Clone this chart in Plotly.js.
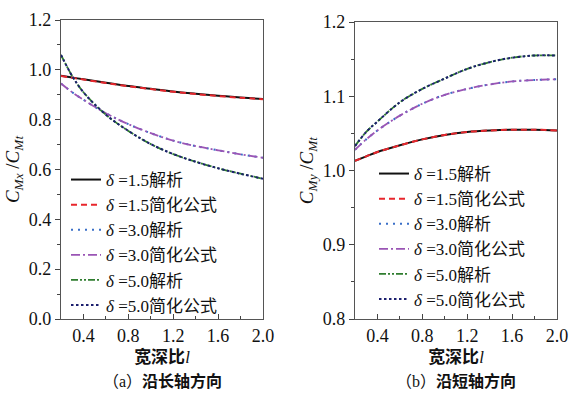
<!DOCTYPE html>
<html>
<head>
<meta charset="utf-8">
<script src="https://cdn.plot.ly/plotly-3.0.1.min.js"></script>
<style>html,body{margin:0;padding:0;background:#fff}#chart{width:576px;height:394px}</style>
</head>
<body>
<div id="chart"></div>
<script>
// Width-to-depth ratio l
const lValues = [0.2, 0.3, 0.4, 0.6, 0.8, 1.0, 1.2, 1.4, 1.6, 1.8, 2.0];

// (a) along long axis: C_Mx / C_Mt
const a_d15_analytic   = [0.976, 0.969, 0.962, 0.948, 0.935, 0.924, 0.913, 0.904, 0.896, 0.889, 0.883];
const a_d15_simplified = [0.975, 0.968, 0.961, 0.947, 0.934, 0.923, 0.912, 0.903, 0.895, 0.888, 0.882];
const a_d30_analytic   = [0.945, 0.910, 0.880, 0.826, 0.782, 0.746, 0.716, 0.694, 0.677, 0.661, 0.647];
const a_d30_simplified = [0.945, 0.910, 0.880, 0.826, 0.782, 0.746, 0.716, 0.694, 0.677, 0.661, 0.647];
const a_d50_analytic   = [1.060, 0.975, 0.910, 0.820, 0.755, 0.702, 0.662, 0.631, 0.605, 0.583, 0.563];
const a_d50_simplified = [1.060, 0.975, 0.910, 0.820, 0.755, 0.702, 0.662, 0.631, 0.605, 0.583, 0.563];

// (b) along short axis: C_My / C_Mt
const b_d15_analytic   = [1.013, 1.019, 1.025, 1.034, 1.042, 1.048, 1.052, 1.054, 1.055, 1.055, 1.054];
const b_d15_simplified = [1.013, 1.019, 1.025, 1.034, 1.042, 1.048, 1.052, 1.054, 1.055, 1.055, 1.054];
const b_d30_analytic   = [1.028, 1.042, 1.054, 1.074, 1.090, 1.102, 1.110, 1.116, 1.120, 1.122, 1.123];
const b_d30_simplified = [1.028, 1.042, 1.054, 1.074, 1.090, 1.102, 1.110, 1.116, 1.120, 1.122, 1.123];
const b_d50_analytic   = [1.033, 1.052, 1.066, 1.092, 1.110, 1.124, 1.137, 1.146, 1.152, 1.155, 1.155];
const b_d50_simplified = [1.033, 1.052, 1.066, 1.092, 1.110, 1.124, 1.137, 1.146, 1.152, 1.155, 1.155];

const seriesNames = [
  '<i>δ</i> =1.5解析', '<i>δ</i> =1.5简化公式',
  '<i>δ</i> =3.0解析', '<i>δ</i> =3.0简化公式',
  '<i>δ</i> =5.0解析', '<i>δ</i> =5.0简化公式'
];
const xTickVals = [0.4, 0.8, 1.2, 1.6, 2.0];
const xTickText = ['0.4', '0.8', '1.2', '1.6', '2.0'];

const styles = [
  {color: '#111111', dash: 'solid', width: 2},
  {color: '#e8262c', dash: '6px,4px', width: 2},
  {color: '#3a6fc8', dash: '2px,5px', width: 2},
  {color: '#9a55b5', dash: '9px,3px,2px,3px', width: 1.8},
  {color: '#2f7d2f', dash: '7px,2px,2px,2px,2px,2px', width: 1.8},
  {color: '#1c1f6e', dash: '2.5px,2.5px', width: 2}
];

const aSeries = [a_d15_analytic, a_d15_simplified, a_d30_analytic, a_d30_simplified, a_d50_analytic, a_d50_simplified];
const bSeries = [b_d15_analytic, b_d15_simplified, b_d30_analytic, b_d30_simplified, b_d50_analytic, b_d50_simplified];

const traces = [];
aSeries.forEach((ys, i) => traces.push({
  x: lValues, y: ys, type: 'scatter', mode: 'lines', name: seriesNames[i],
  line: {color: styles[i].color, dash: styles[i].dash, width: styles[i].width, shape: 'spline'},
  xaxis: 'x', yaxis: 'y', legend: 'legend'
}));
bSeries.forEach((ys, i) => traces.push({
  x: lValues, y: ys, type: 'scatter', mode: 'lines', name: seriesNames[i],
  line: {color: styles[i].color, dash: styles[i].dash, width: styles[i].width, shape: 'spline'},
  xaxis: 'x2', yaxis: 'y2', legend: 'legend2'
}));

const NUMFONT = 'Liberation Serif';
const FONT = 'Liberation Serif, Noto Sans CJK SC';
const axisCommon = {
  showgrid: false, zeroline: false, showline: true, mirror: true,
  linecolor: '#555', linewidth: 1.2, tickcolor: '#444',
  tickfont: {family: NUMFONT, size: 18, color: '#111'}
};
const xCommon = Object.assign({}, axisCommon, {
  range: [0.2, 2.0], tickmode: 'array', tickvals: xTickVals, ticktext: xTickText,
  ticks: 'inside', ticklen: 5,
  minor: {ticks: 'inside', ticklen: 3, dtick: 0.2, tick0: 0.2, tickcolor: '#444'},
  title: {text: '<b>宽深比</b><i>l</i>', font: {family: FONT, size: 17, color: '#111'}, standoff: 6}
});

const legendCommon = {
  bgcolor: 'rgba(0,0,0,0)', borderwidth: 0,
  font: {family: FONT, size: 17, color: '#111'},
  xanchor: 'left', yanchor: 'top', tracegroupgap: 0, itemwidth: 30
};

// paper y is measured on the plot area: pixel 319 -> 0, pixel 20 -> 1
const py = p => (319 - p) / 299;

const layout = {
  width: 576, height: 394,
  margin: {l: 0, r: 0, t: 20, b: 75},
  paper_bgcolor: '#fff', plot_bgcolor: '#fff',
  showlegend: true,
  xaxis: Object.assign({}, xCommon, {domain: [61/576, 263/576], anchor: 'y'}),
  yaxis: Object.assign({}, axisCommon, {
    domain: [0, 1], anchor: 'x', range: [0, 1.2], dtick: 0.2, tick0: 0,
    tickformat: '.1f', ticks: 'outside', ticklen: 5,
    minor: {ticks: 'outside', ticklen: 3, dtick: 0.1, tick0: 0, tickcolor: '#444'},
    title: {text: '<i>C</i><sub><i>Mx</i></sub> /<i>C</i><sub><i>Mt</i></sub>', font: {family: NUMFONT, size: 19, color: '#111'}, standoff: 4}
  }),
  xaxis2: Object.assign({}, xCommon, {domain: [355/576, 557/576], anchor: 'y2'}),
  yaxis2: Object.assign({}, axisCommon, {
    domain: [0, 0.993], anchor: 'x2', range: [0.8, 1.2], dtick: 0.1, tick0: 0.8,
    tickformat: '.1f', ticks: 'outside', ticklen: 5,
    minor: {ticks: 'outside', ticklen: 3, dtick: 0.05, tick0: 0.8, tickcolor: '#444'},
    title: {text: '<i>C</i><sub><i>My</i></sub> /<i>C</i><sub><i>Mt</i></sub>', font: {family: NUMFONT, size: 19, color: '#111'}, standoff: 4}
  }),
  legend: Object.assign({}, legendCommon, {x: 66/576, y: py(162)}),
  legend2: Object.assign({}, legendCommon, {x: 374/576, y: py(156)}),
  annotations: [
    {text: '（a）<b>沿长轴方向</b>', xref: 'paper', yref: 'paper', x: 162/576, y: py(381),
     showarrow: false, font: {family: FONT, size: 16, color: '#111'}, xanchor: 'center', yanchor: 'middle'},
    {text: '（b）<b>沿短轴方向</b>', xref: 'paper', yref: 'paper', x: 456/576, y: py(381),
     showarrow: false, font: {family: FONT, size: 16, color: '#111'}, xanchor: 'center', yanchor: 'middle'}
  ]
};

Plotly.newPlot('chart', traces, layout, {staticPlot: true, displayModeBar: false});
</script>
</body>
</html>
